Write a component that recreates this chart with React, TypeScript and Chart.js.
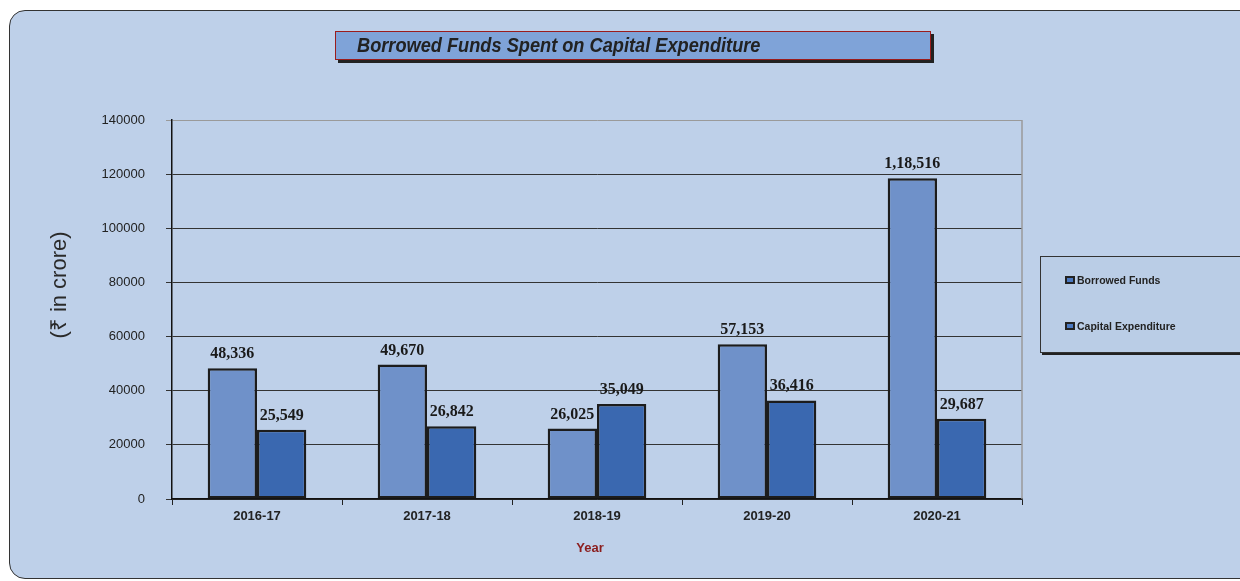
import React, { useEffect, useRef } from "react";
import { Chart, registerables } from "chart.js";

Chart.register(...registerables);

const categories = ["2016-17", "2017-18", "2018-19", "2019-20", "2020-21"];
const borrowedFunds = [48336, 49670, 26025, 57153, 118516];
const capitalExpenditure = [25549, 26842, 35049, 36416, 29687];
const yTicks = [0, 20000, 40000, 60000, 80000, 100000, 120000, 140000];
const seriesNames = ["Borrowed Funds", "Capital Expenditure"];
const chartTitle = "Borrowed Funds Spent on Capital Expenditure";
const yTitle = "(₹ in crore)";
const xTitle = "Year";

const SANS = "'Liberation Sans', Arial, sans-serif";
const SERIF = "'Liberation Serif', 'Times New Roman', serif";

function indianFormat(n: number): string {
  const s = String(Math.round(n));
  if (s.length <= 3) return s;
  const last3 = s.slice(-3);
  let rest = s.slice(0, -3);
  const parts: string[] = [];
  while (rest.length > 2) {
    parts.unshift(rest.slice(-2));
    rest = rest.slice(0, -2);
  }
  if (rest.length) parts.unshift(rest);
  return parts.join(",") + "," + last3;
}

const decorPlugin = {
  id: "decor",
  afterDatasetsDraw(chart: any) {
    const { ctx, chartArea } = chart;
    ctx.save();
    // right border of plot area
    ctx.strokeStyle = "#9a9a9a";
    ctx.lineWidth = 1.5;
    ctx.beginPath();
    ctx.moveTo(chartArea.right, chartArea.top);
    ctx.lineTo(chartArea.right, chartArea.bottom);
    ctx.stroke();
    // data labels
    ctx.font = `bold 16px ${SERIF}`;
    ctx.fillStyle = "#1a1a1a";
    ctx.textAlign = "center";
    ctx.textBaseline = "alphabetic";
    chart.data.datasets.forEach((ds: any, di: number) => {
      const meta = chart.getDatasetMeta(di);
      meta.data.forEach((bar: any, i: number) => {
        ctx.fillText(indianFormat(ds.data[i]), bar.x, bar.y - 10);
      });
    });
    // axis titles
    ctx.fillStyle = "#2a2a2a";
    ctx.font = `22px ${SANS}`;
    ctx.textBaseline = "middle";
    ctx.save();
    ctx.translate(60, 285);
    ctx.rotate(-Math.PI / 2);
    ctx.fillText(yTitle, 0, 0);
    ctx.restore();
    ctx.fillStyle = "#8b1d1d";
    ctx.font = `bold 13px ${SANS}`;
    ctx.fillText(xTitle, 590, 548);
    ctx.restore();
  },
};

export default function App() {
  const ref = useRef<HTMLCanvasElement | null>(null);

  useEffect(() => {
    document.body.style.margin = "0";
    const canvas = ref.current;
    if (!canvas) return;
    const chart = new Chart(canvas, {
      type: "bar",
      data: {
        labels: categories,
        datasets: [
          {
            label: seriesNames[0],
            data: borrowedFunds,
            backgroundColor: "#6f91c9",
            borderColor: "#1c1c1c",
            borderWidth: 2.5,
            borderSkipped: false,
            categoryPercentage: 0.58,
            barPercentage: 1,
          },
          {
            label: seriesNames[1],
            data: capitalExpenditure,
            backgroundColor: "#3a68b0",
            borderColor: "#1c1c1c",
            borderWidth: 2.5,
            borderSkipped: false,
            categoryPercentage: 0.58,
            barPercentage: 1,
          },
        ],
      },
      options: {
        responsive: false,
        animation: false,
        layout: { padding: { left: 0, right: 218, top: 120, bottom: 0 } },
        plugins: {
          legend: { display: false },
          title: { display: false },
          tooltip: { enabled: false },
        },
        scales: {
          x: {
            offset: true,
            afterFit: (s: any) => {
              s.height = 82;
            },
            grid: {
              display: true,
              drawOnChartArea: false,
              drawTicks: true,
              offset: true,
              tickLength: 6,
              color: "#222",
            },
            border: { display: true, color: "#111", width: 1.5 },
            ticks: {
              color: "#222",
              padding: 4,
              font: { family: SANS, size: 13, weight: "bold" },
            },
          },
          y: {
            min: 0,
            max: 140000,
            afterFit: (s: any) => {
              s.width = 172;
            },
            afterBuildTicks: (s: any) => {
              s.ticks = yTicks.map((v) => ({ value: v }));
            },
            grid: {
              color: (c: any) => (c.tick && c.tick.value === 140000 ? "#9a9a9a" : "#333"),
              lineWidth: 1,
              tickLength: 6,
              drawTicks: true,
            },
            border: { display: true, color: "#111", width: 1.5 },
            ticks: {
              color: "#222",
              padding: 21,
              font: { family: SANS, size: 13 },
              callback: (v: any) => String(v),
            },
          },
        },
      },
      plugins: [decorPlugin],
    } as any);
    return () => chart.destroy();
  }, []);

  return (
    <div
      style={{
        position: "fixed",
        left: 0,
        top: 0,
        width: 1240,
        height: 581,
        overflow: "hidden",
        background: "#ffffff",
      }}
    >
      <div
        style={{
          position: "absolute",
          left: 9,
          top: 10,
          width: 1300,
          height: 569,
          border: "1.5px solid #333",
          borderRadius: 16,
          background: "#bed0e9",
          boxSizing: "border-box",
        }}
      />
      <canvas
        ref={ref}
        width={1240}
        height={581}
        style={{ position: "absolute", left: 0, top: 0, width: 1240, height: 581 }}
      />
      <div
        style={{
          position: "absolute",
          left: 335,
          top: 31,
          width: 596,
          height: 29,
          boxSizing: "border-box",
          background: "#7fa3d8",
          border: "1px solid #9b1c1c",
          boxShadow: "3px 3px 0 #222",
          fontFamily: SANS,
          fontStyle: "italic",
          fontWeight: "bold",
          fontSize: 20,
          lineHeight: "27px",
          color: "#222",
          paddingLeft: 21,
          whiteSpace: "nowrap",
        }}
      >
        <span
          style={{
            display: "inline-block",
            transform: "scaleX(0.91)",
            transformOrigin: "left center",
          }}
        >
          {chartTitle}
        </span>
      </div>
      <div
        style={{
          position: "absolute",
          left: 1040,
          top: 256,
          width: 220,
          height: 97,
          boxSizing: "border-box",
          background: "#bacde6",
          border: "1px solid #333",
          boxShadow: "2px 2px 0 #222",
          fontFamily: SANS,
          fontWeight: "bold",
          fontSize: 10.5,
          color: "#222",
        }}
      >
        {seriesNames.map((name, i) => (
          <div
            key={name}
            style={{
              position: "absolute",
              left: 24,
              top: 17 + i * 46,
              display: "flex",
              alignItems: "center",
              whiteSpace: "nowrap",
            }}
          >
            <span
              style={{
                display: "inline-block",
                width: 6,
                height: 4,
                background: "#4a78c0",
                border: "2px solid #222",
                marginRight: 2,
              }}
            />
            {name}
          </div>
        ))}
      </div>
    </div>
  );
}
